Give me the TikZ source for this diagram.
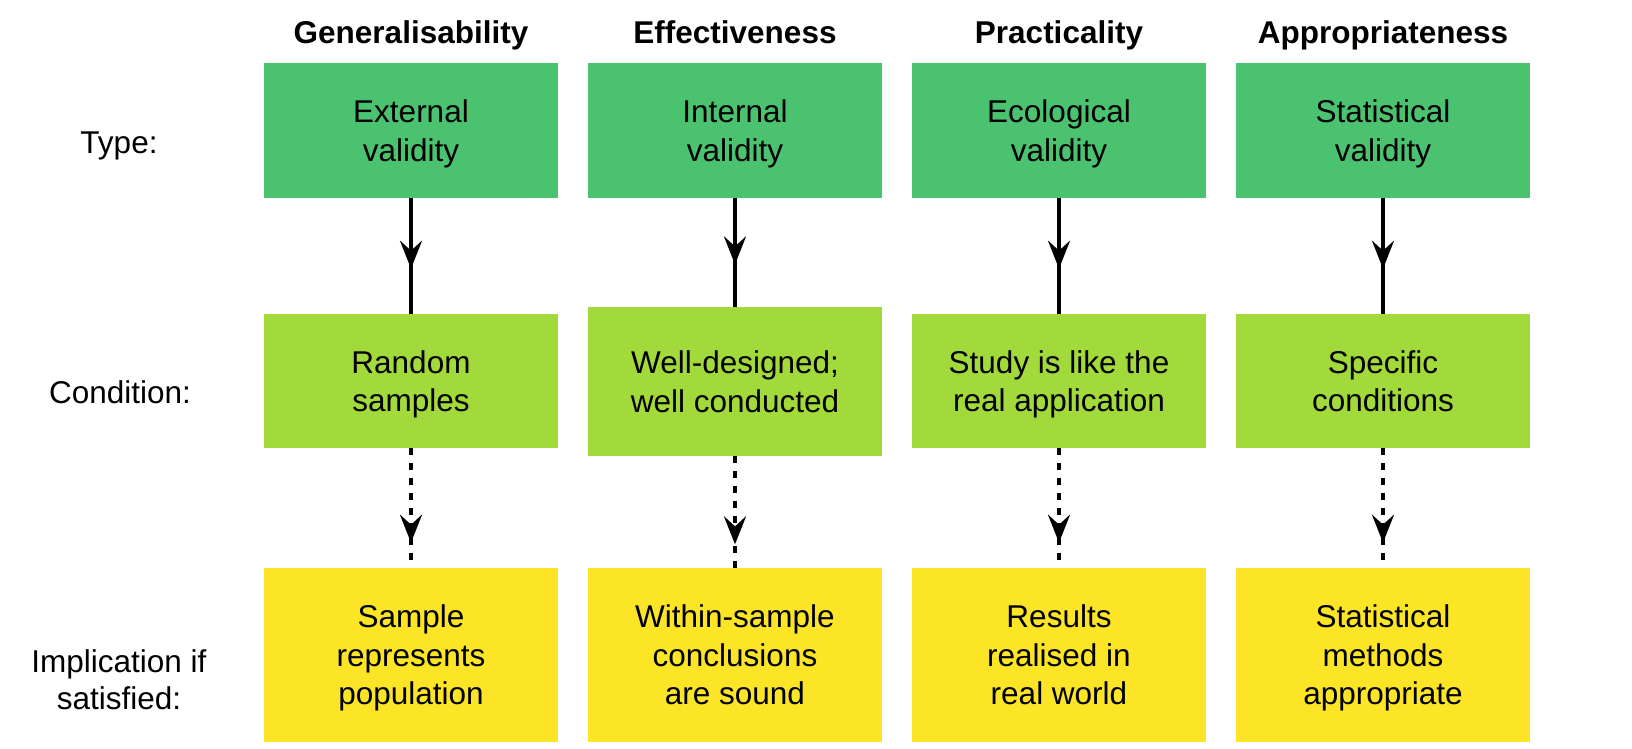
\documentclass[tikz,border=0pt]{standalone}
\usepackage{fontspec}
\setmainfont{Liberation Sans}
\usepackage{tikz}
\usetikzlibrary{arrows.meta}
\usetikzlibrary{decorations.markings}
\definecolor{typegreen}{RGB}{75,194,111}
\definecolor{condgreen}{RGB}{162,218,59}
\definecolor{implyellow}{RGB}{251,229,38}
\tikzstyle{box_text}=[align=center, inner sep=0pt, text depth=0pt, minimum width=294pt, font=\fontsize{31.5}{38.5}\selectfont]
\tikzstyle{type_box}=[box_text, fill=typegreen, minimum height=135pt]
\tikzstyle{cond_box}=[box_text, fill=condgreen, minimum height=134pt]
\tikzstyle{impl_box}=[box_text, fill=implyellow, minimum height=174pt]
\tikzstyle{head_text}=[anchor=base, inner sep=0pt, font=\fontsize{31.5}{38.5}\selectfont\bfseries]
\tikzstyle{row_text}=[align=center, inner sep=0pt, text depth=0pt, font=\fontsize{31.5}{37}\selectfont]
\tikzstyle{link_solid}=[line width=4pt, postaction={decorate},
    decoration={markings, mark=at position 0.61 with {\arrow{Stealth[length=28pt, width=22pt, inset=10pt]}}}]
\tikzstyle{link_dotted}=[line width=4pt, dash pattern=on 7pt off 8pt, postaction={decorate},
    decoration={markings, mark=at position 0.79 with {\arrow{Stealth[length=28pt, width=22pt, inset=10pt]}}}]

\begin{document}
\begin{tikzpicture}[x=1pt, y=-1pt]
\useasboundingbox (0,0) rectangle (1632,748);
\node[head_text] (head1) at (411,43){Generalisability};
\node[head_text] (head2) at (735,43){Effectiveness};
\node[head_text] (head3) at (1059,43){Practicality};
\node[head_text] (head4) at (1383,43){Appropriateness};
\node[row_text, anchor=base] (lab_type) at (119,153){Type:};
\node[row_text, anchor=base] (lab_cond) at (120,403){Condition:};
\node[row_text] (lab_impl) at (119,680){Implication if\\satisfied:};
\node[type_box] (type1) at (411,130.5){External\\validity};
\node[type_box] (type2) at (735,130.5){Internal\\validity};
\node[type_box] (type3) at (1059,130.5){Ecological\\validity};
\node[type_box] (type4) at (1383,130.5){Statistical\\validity};
\node[cond_box] (cond1) at (411,381){Random\\samples};
\node[cond_box, minimum height=149pt] (cond2) at (735,381.5){Well-designed;\\well conducted};
\node[cond_box] (cond3) at (1059,381){Study is like the\\real application};
\node[cond_box] (cond4) at (1383,381){Specific\\conditions};
\node[impl_box] (impl1) at (411,655){Sample\\represents\\population};
\node[impl_box] (impl2) at (735,655){Within-sample\\conclusions\\are sound};
\node[impl_box] (impl3) at (1059,655){Results\\realised in\\real world};
\node[impl_box] (impl4) at (1383,655){Statistical\\methods\\appropriate};
\draw[link_solid](type1) -- (cond1);
\draw[link_solid](type2) -- (cond2);
\draw[link_solid](type3) -- (cond3);
\draw[link_solid](type4) -- (cond4);
\draw[link_dotted](cond1) -- (impl1);
\draw[link_dotted](cond2) -- (impl2);
\draw[link_dotted](cond3) -- (impl3);
\draw[link_dotted](cond4) -- (impl4);
\end{tikzpicture}
\end{document}
